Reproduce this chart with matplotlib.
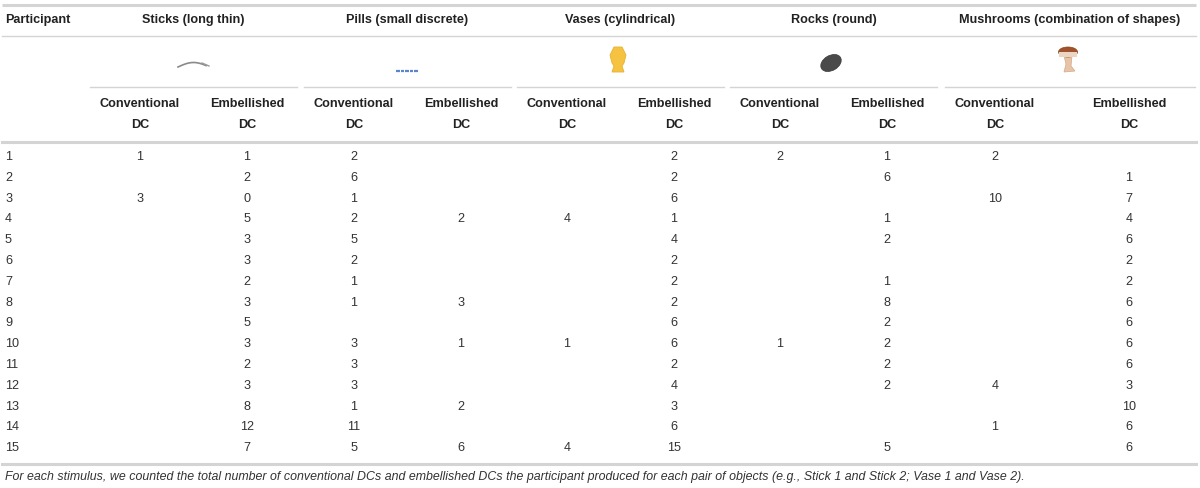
import matplotlib.pyplot as plt
import matplotlib.patches as mpatches
import numpy as np

# table content
participants = list(range(1, 16))
groups = ["Sticks (long thin)", "Pills (small discrete)", "Vases (cylindrical)",
          "Rocks (round)", "Mushrooms (combination of shapes)"]
sub_labels = ["Conventional", "Embellished"]

sticks_conv = [1, None, 3, None, None, None, None, None, None, None, None, None, None, None, None]
sticks_emb = [1, 2, 0, 5, 3, 3, 2, 3, 5, 3, 2, 3, 8, 12, 7]
pills_conv = [2, 6, 1, 2, 5, 2, 1, 1, None, 3, 3, 3, 1, 11, 5]
pills_emb = [None, None, None, 2, None, None, None, 3, None, 1, None, None, 2, None, 6]
vases_conv = [None, None, None, 4, None, None, None, None, None, 1, None, None, None, None, 4]
vases_emb = [2, 2, 6, 1, 4, 2, 2, 2, 6, 6, 2, 4, 3, 6, 15]
rocks_conv = [2, None, None, None, None, None, None, None, None, 1, None, None, None, None, None]
rocks_emb = [1, 6, None, 1, 2, None, 1, 8, 2, 2, 2, 2, None, None, 5]
mush_conv = [2, None, 10, None, None, None, None, None, None, None, None, 4, None, 1, None]
mush_emb = [None, 1, 7, 4, 6, 2, 2, 6, 6, 6, 6, 3, 10, 6, 6]

columns = [sticks_conv, sticks_emb, pills_conv, pills_emb, vases_conv, vases_emb,
           rocks_conv, rocks_emb, mush_conv, mush_emb]

footnote = ("For each stimulus, we counted the total number of conventional DCs and embellished DCs "
            "the participant produced for each pair of objects (e.g., Stick 1 and Stick 2; Vase 1 and Vase 2).")

# layout (pixels)
W, H = 1200, 488
col_x = [140, 247, 354, 461, 567, 674, 780, 887, 995, 1129]
first_row_y = 157
row_h = 20.8
fs = 9.1
txt_col = "#222222"
line_col = "#d4d4d4"

plt.rcParams['font.family'] = ['Liberation Sans', 'DejaVu Sans']

fig = plt.figure(figsize=(W / 100, H / 100), dpi=100)
ax = fig.add_axes([0, 0, 1, 1])
ax.set_xlim(0, W)
ax.set_ylim(H, 0)
ax.axis('off')

# rules
ax.plot([2, 1196], [5, 5], color=line_col, lw=2.2, solid_capstyle='butt')
ax.plot([2, 1196], [36, 36], color=line_col, lw=1.0)
ax.plot([2, 1196], [141.5, 141.5], color=line_col, lw=2.2)
ax.plot([2, 1196], [463.5, 463.5], color=line_col, lw=2.2)

# header row
ax.text(5, 20, "Participant", fontsize=fs, fontweight='bold', color=txt_col, va='center', ha='left')
for g, name in enumerate(groups):
    x0 = col_x[2 * g] - 52
    x1 = col_x[2 * g + 1] + 52 if g < 4 else 1197
    cx = (x0 + x1) / 2
    ax.text(cx, 20, name, fontsize=fs, fontweight='bold', color=txt_col, va='center', ha='center')
    ax.plot([x0 + 2, x1 - 2], [86.5, 86.5], color=line_col, lw=1.0)
    for k in range(2):
        x = col_x[2 * g + k]
        ax.text(x, 104, sub_labels[k], fontsize=fs, fontweight='bold', color=txt_col, va='center', ha='center')
        ax.text(x, 125, "DC", fontsize=fs, fontweight='bold', color=txt_col, va='center', ha='center')

# icons
# stick
t = np.linspace(0, 1, 30)
ax.plot(178 + 28 * t, 67 - 4.5 * np.sin(np.pi * t * 0.9), color='#8a8a8a', lw=1.2)
ax.plot([202, 209], [63, 66], color='#9a9a9a', lw=1.0)
# pills
for i in range(5):
    ax.plot([396 + 4.6 * i, 399.5 + 4.6 * i], [71, 71], color='#5b86c9', lw=1.6, solid_capstyle='butt')
# vase
vase = mpatches.Polygon([[614, 47], [622, 47], [626, 55], [624, 63], [622, 66], [624, 72],
                         [612, 72], [614, 66], [612, 63], [610, 55]],
                        closed=True, facecolor='#f5c242', edgecolor='#e7b230', lw=0.6)
ax.add_patch(vase)
# rock
ax.add_patch(mpatches.Ellipse((831, 63), 22, 15, angle=-30, facecolor='#4a4a4a', edgecolor='#3a3a3a', lw=0.5))
# mushroom
ax.add_patch(mpatches.Polygon([[1064, 56], [1072, 56], [1071, 66], [1075, 71], [1064, 72], [1066, 64]],
                              closed=True, facecolor='#e7c3a7', edgecolor='#d4a88a', lw=0.5))
ax.add_patch(mpatches.Ellipse((1068, 52), 19, 10, facecolor='#a0522d', edgecolor='#8b4513', lw=0.5))
ax.add_patch(mpatches.Rectangle((1059, 52), 18, 5, facecolor='#ead6c2', edgecolor='none'))

# body
for i, p in enumerate(participants):
    y = first_row_y + i * row_h
    ax.text(5, y, str(p), fontsize=fs, color="#333333", va='center', ha='left')
    for c, col in enumerate(columns):
        v = col[i]
        if v is not None:
            ax.text(col_x[c], y, str(v), fontsize=fs, color="#333333", va='center', ha='center')

ax.text(5, 477, footnote, fontsize=8.9, style='italic', color="#333333", va='center', ha='left')

fig.savefig("out.png", dpi=100)
